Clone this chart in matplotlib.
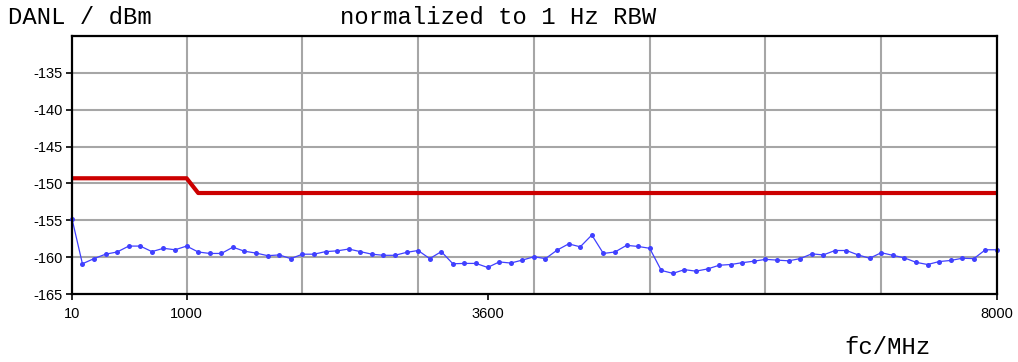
import matplotlib
matplotlib.use("Agg")
import matplotlib.pyplot as plt

# Measured noise level (DANL) versus centre frequency
freq_mhz = [10] + list(range(100, 8001, 100))
danl_dbm = [
    -154.8, -160.9, -160.2, -159.6, -159.3, -158.5, -158.5, -159.25, -158.8, -159.0,
    -158.5, -159.3, -159.5, -159.5, -158.65, -159.2, -159.45, -159.8, -159.7, -160.2,
    -159.6, -159.6, -159.25, -159.15, -158.9, -159.25, -159.6, -159.75, -159.75, -159.35,
    -159.1, -160.2, -159.25, -160.9, -160.85, -160.85, -161.4, -160.65, -160.8, -160.4,
    -159.95, -160.2, -159.05, -158.2, -158.6, -157.0, -159.5, -159.3, -158.4, -158.55,
    -158.8, -161.8, -162.2, -161.7, -161.9, -161.6, -161.1, -161.0, -160.75, -160.55,
    -160.3, -160.4, -160.5, -160.2, -159.55, -159.7, -159.1, -159.1, -159.7, -160.15,
    -159.4, -159.75, -160.1, -160.7, -161.0, -160.6, -160.45, -160.15, -160.2, -159.0,
    -159.0,
]

# Specification limit
spec_freq = [10, 1000, 1100, 8000]
spec_dbm = [-149.3, -149.3, -151.3, -151.3]

x_ticks = [10, 1000, 3600, 8000]
x_grid = [1000, 2000, 3000, 4000, 5000, 6000, 7000]
y_ticks = [-165, -160, -155, -150, -145, -140, -135]

fig = plt.figure(figsize=(10.18, 3.62), dpi=100)
ax = fig.add_axes([72 / 1018, 1 - 294 / 362, (997 - 72) / 1018, (294 - 36) / 362])

ax.set_xlim(10, 8000)
ax.set_ylim(-165, -130)

grid_kw = dict(color="#a6a6a6", lw=1.5, zorder=1)
for g in x_grid:
    ax.axvline(g, **grid_kw)
for g in y_ticks[1:] + [-130]:
    ax.axhline(g, **grid_kw)

ax.plot(spec_freq, spec_dbm, color="#cc0000", lw=3, solid_capstyle="butt", zorder=3)
ax.plot(freq_mhz, danl_dbm, color="#4040ff", lw=0.9, marker="o", ms=3.6,
        markeredgewidth=0, zorder=4, clip_on=False)

ax.set_xticks(x_ticks)
ax.set_xticklabels([str(v) for v in x_ticks])
ax.set_yticks(y_ticks)
ax.set_yticklabels([str(v) for v in y_ticks])
ax.tick_params(axis="both", direction="out", length=4, width=1.2, color="black",
               labelsize=10.5, pad=3)
ax.tick_params(axis="x", pad=5)
for lab in ax.get_xticklabels() + ax.get_yticklabels():
    lab.set_fontfamily("Liberation Sans")

for side in ax.spines.values():
    side.set_linewidth(1.6)
    side.set_color("black")
    side.set_zorder(5)

mono = "Liberation Mono"
fig.text(8 / 1018, 1 - 18 / 362, "DANL / dBm", family=mono, fontsize=17.2,
         ha="left", va="center")
fig.text(340 / 1018, 1 - 18 / 362, "normalized to 1 Hz RBW", family=mono,
         fontsize=17.2, ha="left", va="center")
fig.text(887 / 1018, 1 - 348 / 362, "fc/MHz", family=mono, fontsize=17.2,
         ha="center", va="center")

fig.savefig("out.png", dpi=100)
